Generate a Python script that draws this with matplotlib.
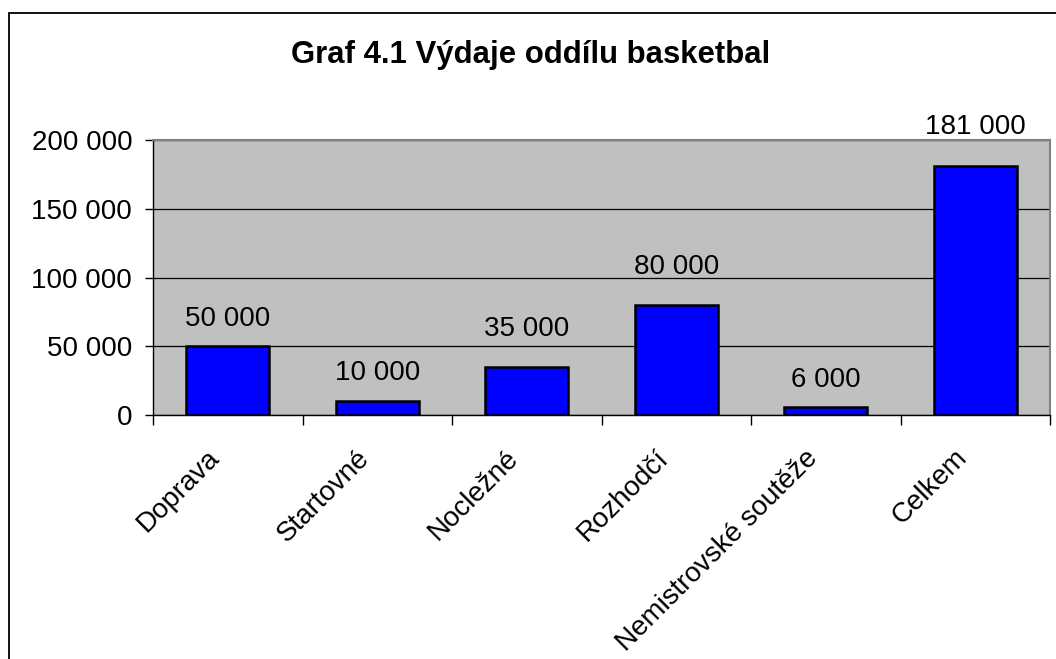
import matplotlib
matplotlib.use("Agg")
import matplotlib.pyplot as plt
import matplotlib.transforms as mtransforms
from matplotlib.patches import Rectangle
from matplotlib.ticker import FuncFormatter, FixedLocator, MultipleLocator

plt.rcParams["font.family"] = ["Liberation Sans", "DejaVu Sans"]

categories = ["Doprava", "Startovné", "Nocležné", "Rozhodčí",
              "Nemistrovské soutěže", "Celkem"]
values = [50000, 10000, 35000, 80000, 6000, 181000]
title = "Graf 4.1 Výdaje oddílu basketbal"


def fmt(v, pos=None):
    return f"{int(v):,}".replace(",", " ")


fig = plt.figure(figsize=(10.56, 6.59), dpi=100)
ax = fig.add_axes([153 / 1056, 1 - 415 / 659, 897 / 1056, 275 / 659])

# chart area border (cut off at right and bottom in the original)
fig.add_artist(Rectangle((9 / 1056, -0.1), 1.2, 1 - 13 / 659 + 0.1,
                         transform=fig.transFigure, fill=False,
                         edgecolor="black", linewidth=1.3))

ax.set_facecolor("#C0C0C0")
x = list(range(len(categories)))
ax.bar(x, values, width=0.555, color="#0000FF", edgecolor="black",
       linewidth=1.8, zorder=3)

ax.set_xlim(-0.5, len(categories) - 0.5)
ax.set_ylim(0, 200000)
ax.yaxis.set_major_locator(MultipleLocator(50000))
ax.yaxis.set_major_formatter(FuncFormatter(fmt))
ax.grid(axis="y", color="black", linewidth=0.9, zorder=1)

for side in ["top", "right"]:
    ax.spines[side].set_color("#808080")
    ax.spines[side].set_linewidth(1.5)
for side in ["left", "bottom"]:
    ax.spines[side].set_color("black")
    ax.spines[side].set_linewidth(1.0)

ax.tick_params(axis="y", labelsize=20, length=6, width=1, pad=9)

# labels at category centres, tick marks at category boundaries
ax.set_xticks(x)
ax.set_xticklabels(categories, rotation=45, ha="right", va="center",
                   rotation_mode="anchor", fontsize=20)
ax.tick_params(axis="x", which="major", length=0, pad=28)
shift = mtransforms.ScaledTranslation(-12 / 100, 0, fig.dpi_scale_trans)
for lbl in ax.get_xticklabels():
    lbl.set_transform(lbl.get_transform() + shift)
ax.xaxis.set_minor_locator(FixedLocator([i - 0.5 for i in range(len(categories) + 1)]))
ax.tick_params(axis="x", which="minor", length=7, width=1)

label_offsets = [14.5, 15, 22.5, 22.5, 14.5, 23]
for xi, v, off in zip(x, values, label_offsets):
    ax.annotate(fmt(v), (xi, v), xytext=(0, off), textcoords="offset points",
                ha="center", va="baseline", fontsize=20, annotation_clip=False)

fig.text(531 / 1056, 1 - 63 / 659, title, ha="center", va="baseline",
         fontsize=22.4, fontweight="bold")

fig.savefig("out.png", dpi=100)
